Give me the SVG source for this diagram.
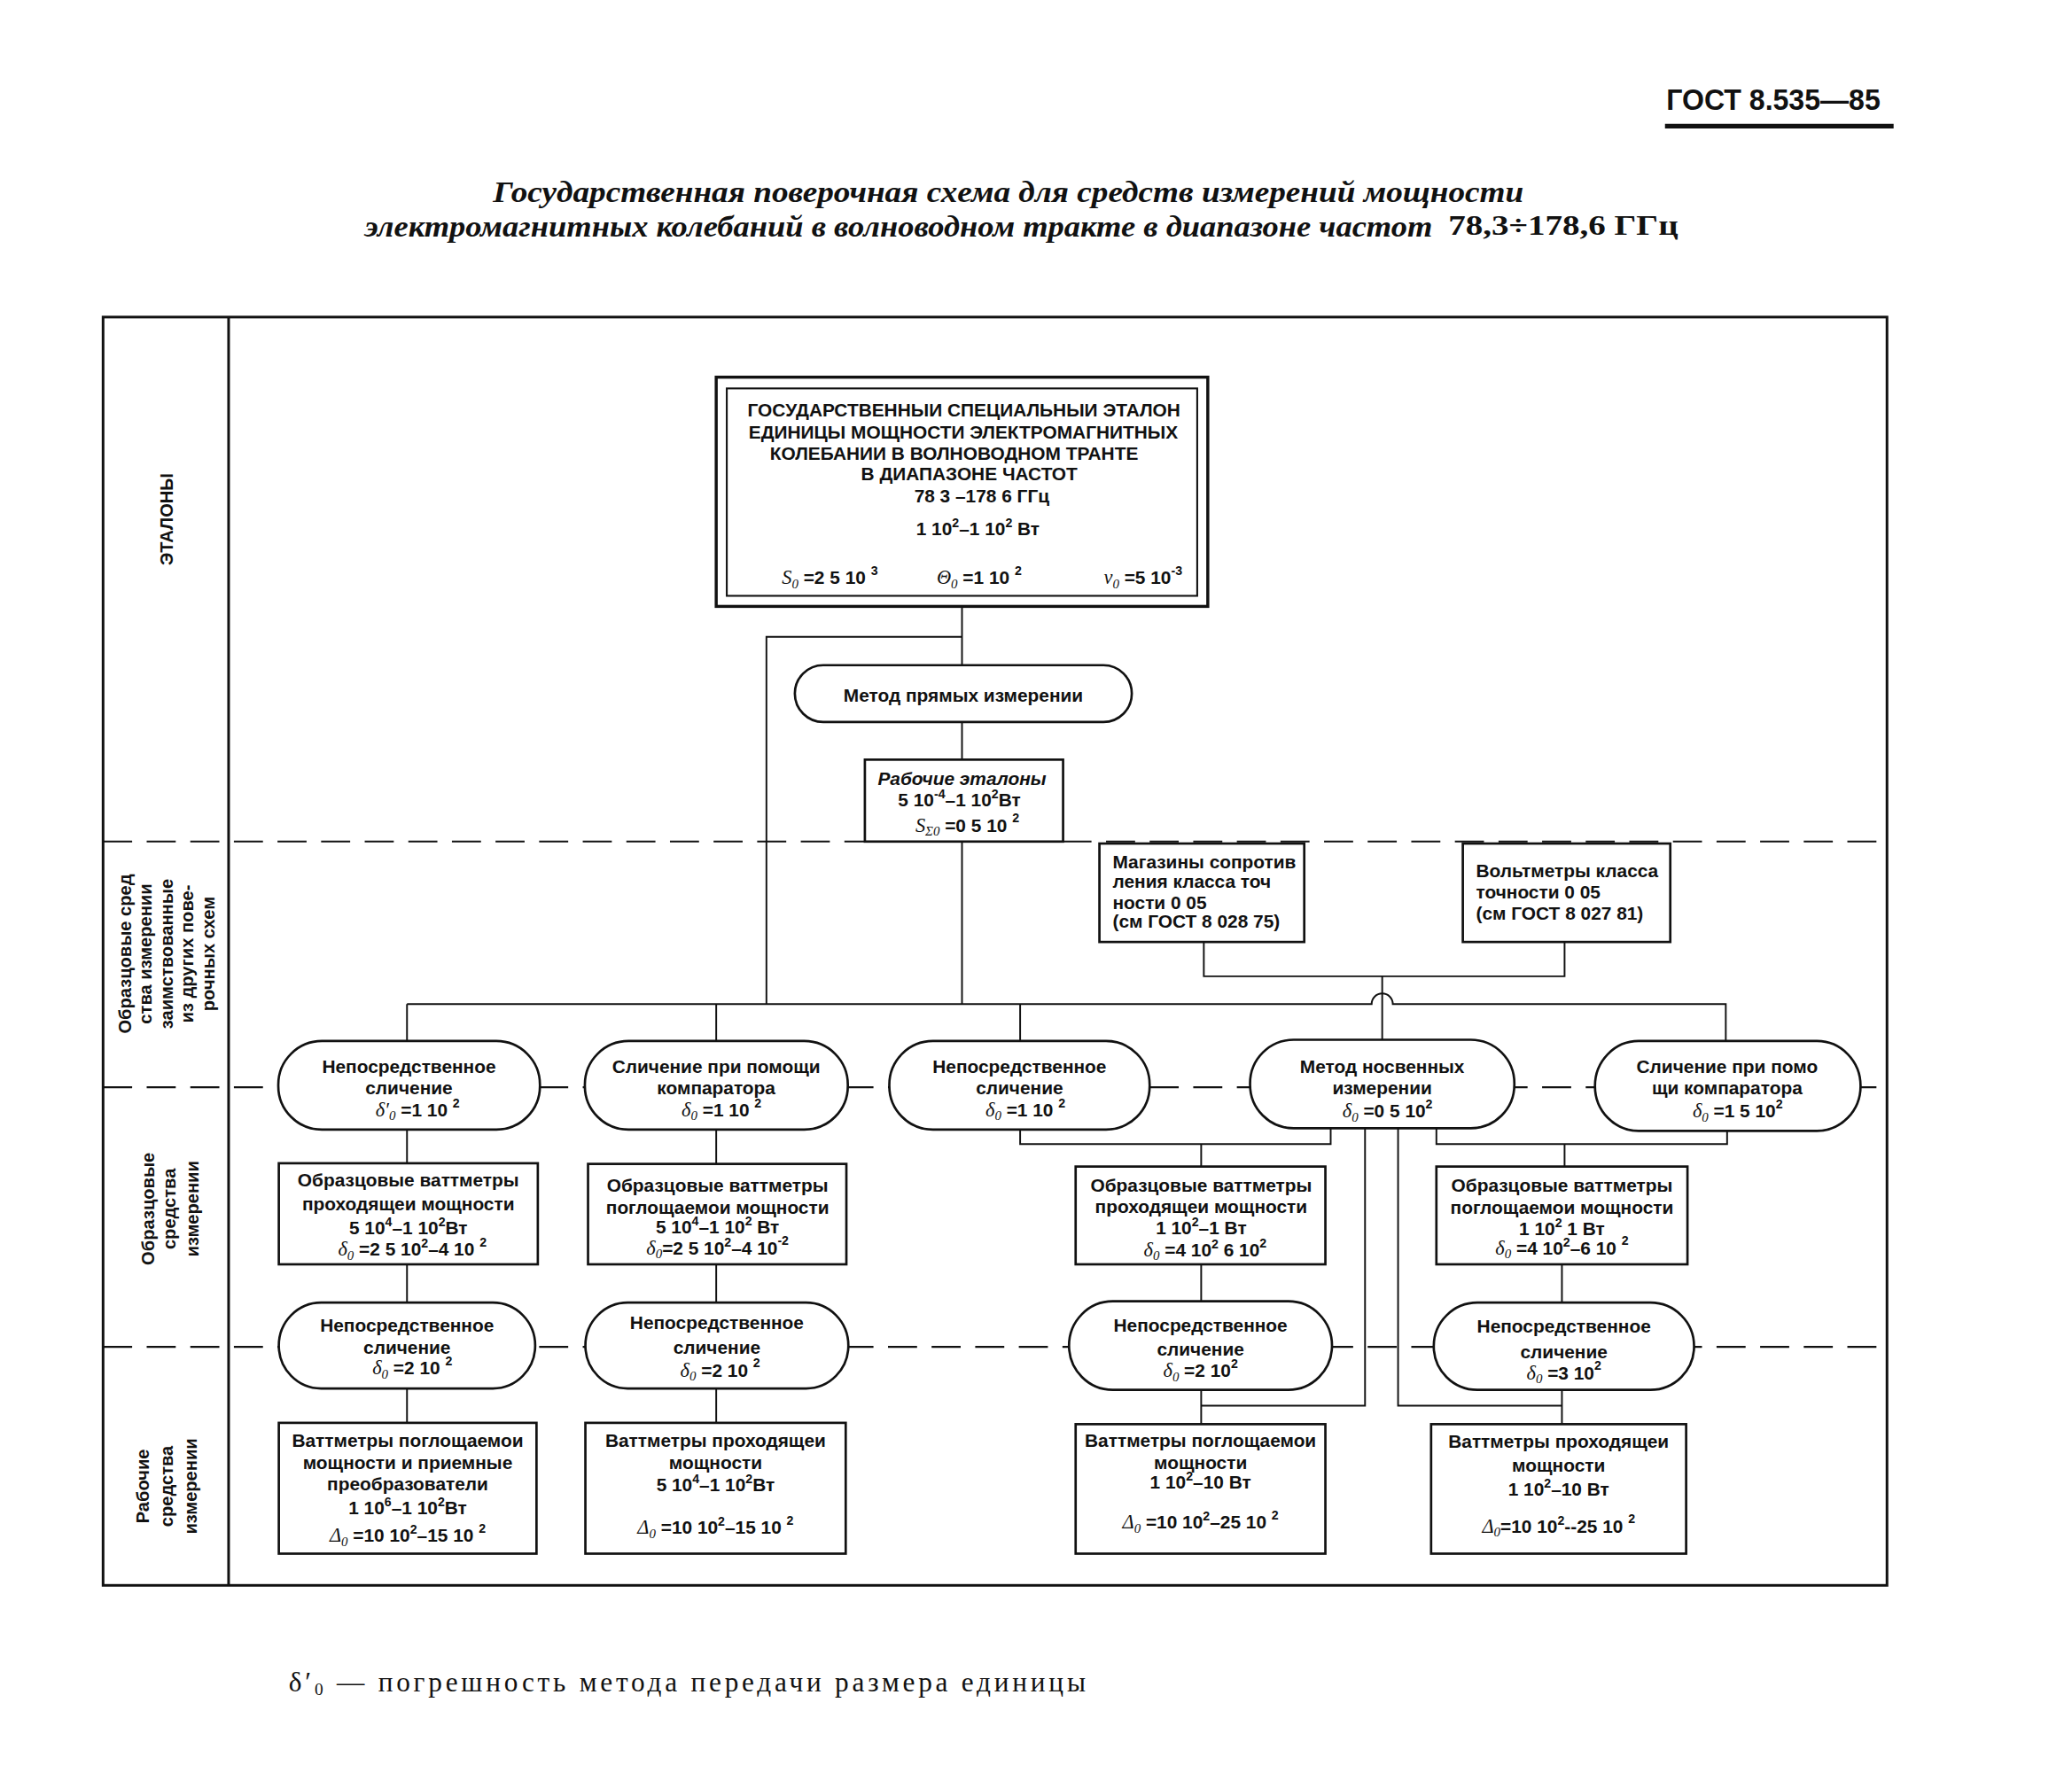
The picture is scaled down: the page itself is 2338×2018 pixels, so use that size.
<svg xmlns="http://www.w3.org/2000/svg" width="2338" height="2018" viewBox="0 0 2338 2018">
<style>
.n{font-family:"Liberation Sans",Arial,sans-serif;font-weight:bold;font-size:14px;text-anchor:middle;fill:#111}
.l{text-anchor:start}
.lab{font-family:"Liberation Sans",Arial,sans-serif;font-weight:bold;font-size:13.5px;text-anchor:middle;fill:#111}
.sp{font-size:9.5px}
.i{font-family:"Liberation Serif","Times New Roman",serif;font-style:italic;font-weight:normal;font-size:15px}
.sp.i{font-size:10px}
.box{fill:#fff;stroke:#111;stroke-width:1.8}
.box2{fill:#fff;stroke:#111;stroke-width:2.3}
.ln{fill:none;stroke:#111;stroke-width:1.3}
.dash{fill:none;stroke:#111;stroke-width:1.4;stroke-dasharray:22 11}
.ti{font-family:"Liberation Serif","Times New Roman",serif;font-weight:bold;font-style:italic;font-size:22px;fill:#111}
</style>
<rect width="2338" height="2018" fill="#fff"/>
<g transform="scale(1.49107)">

<g id="header">
<text x="1261" y="83" font-family="'Liberation Sans',Arial,sans-serif" font-weight="bold" font-size="22" textLength="162" lengthAdjust="spacingAndGlyphs" fill="#111">ГОСТ 8.535—85</text>
<line x1="1260" y1="95.5" x2="1433" y2="95.5" stroke="#111" stroke-width="3.4"/>
<text class="ti" x="373" y="153" textLength="780" lengthAdjust="spacingAndGlyphs">Государственная поверочная схема для средств измерений мощности</text>
<text class="ti" x="276" y="179" textLength="808" lengthAdjust="spacingAndGlyphs">электромагнитных колебаний в волноводном тракте в диапазоне частот</text>
<text x="1096" y="178" font-family="'Liberation Serif','Times New Roman',serif" font-weight="bold" font-size="21" textLength="174" lengthAdjust="spacingAndGlyphs" fill="#111">78,3÷178,6 ГГц</text>
</g>

<g id="frame">
<path class="dash" d="M78 637H1428M78 823H1428M78 1019.5H1428"/>
<rect x="78" y="240" width="1350" height="960" fill="none" stroke="#111" stroke-width="2"/>
<line x1="173" y1="240" x2="173" y2="1200" stroke="#111" stroke-width="2"/>
<text class="lab" transform="translate(131,393) rotate(-90)">ЭТАЛОНЫ</text>
<text class="lab" transform="translate(99.5,722) rotate(-90)">Образцовые сред</text>
<text class="lab" transform="translate(115,722) rotate(-90)">ства измерении</text>
<text class="lab" transform="translate(130.5,722) rotate(-90)">заимствованные</text>
<text class="lab" transform="translate(146.5,722) rotate(-90)">из других пове-</text>
<text class="lab" transform="translate(162.5,722) rotate(-90)">рочных схем</text>
<text class="lab" transform="translate(117,915) rotate(-90)">Образцовые</text>
<text class="lab" transform="translate(133,915) rotate(-90)">средства</text>
<text class="lab" transform="translate(150,915) rotate(-90)">измерении</text>
<text class="lab" transform="translate(113,1125) rotate(-90)">Рабочие</text>
<text class="lab" transform="translate(131,1125) rotate(-90)">средства</text>
<text class="lab" transform="translate(149,1125) rotate(-90)">измерении</text>
</g>

<g id="connectors" class="ln">
<path d="M728 459V503.5"/>
<path d="M728 482H580V760"/>
<path d="M728 546.5V575"/>
<path d="M728 637V760"/>
<path d="M308 760H1038A8 8 0 0 1 1054 760H1306V788"/>
<path d="M308 760V788M542 760V788M772 760V788"/>
<path d="M911 713V739H1184V713M1046 739V787"/>
<path d="M308 855V880.5M542 855V881"/>
<path d="M772 855V866H1007V854M909 866V883"/>
<path d="M1087 854V866H1307V856M1184 866V883"/>
<path d="M1033 854V1064H909M1058 854V1064H1182"/>
<path d="M308 957V986M542 957V986M909 957V985M1182 957V986"/>
<path d="M308 1051V1077M542 1051V1077M909 1052V1078M1182 1052V1078"/>
</g>

<g id="state-standard">
<rect class="box2" x="542" y="285.5" width="372" height="173.5"/>
<rect x="550" y="294" width="356" height="157" fill="none" stroke="#111" stroke-width="1.4"/>
<text class="n" x="729.5" y="315.5">ГОСУДАРСТВЕННЫИ СПЕЦИАЛЬНЫИ ЭТАЛОН</text>
<text class="n" x="729" y="332">ЕДИНИЦЫ МОЩНОСТИ ЭЛЕКТРОМАГНИТНЫХ</text>
<text class="n" x="722" y="348">КОЛЕБАНИИ В ВОЛНОВОДНОМ ТРАНТЕ</text>
<text class="n" x="733.5" y="363.5">В ДИАПАЗОНЕ ЧАСТОТ</text>
<text class="n" x="743" y="380.5">78 3 –178 6 ГГц</text>
<text class="n" x="740" y="405">1 10<tspan class="sp" dy="-6">2</tspan><tspan dy="6">–1 10</tspan><tspan class="sp" dy="-6">2</tspan><tspan dy="6"> Вт</tspan></text>
<text class="n" x="628" y="442"><tspan class="i">S</tspan><tspan class="sp i" dy="3">0</tspan><tspan dy="-3"> =2 5 10 </tspan><tspan class="sp" dy="-7">3</tspan></text>
<text class="n" x="741" y="442"><tspan class="i">Θ</tspan><tspan class="sp i" dy="3">0</tspan><tspan dy="-3"> =1 10 </tspan><tspan class="sp" dy="-7">2</tspan></text>
<text class="n" x="865" y="442"><tspan class="i">ν</tspan><tspan class="sp i" dy="3">0</tspan><tspan dy="-3"> =5 10</tspan><tspan class="sp" dy="-7">-3</tspan></text>
</g>

<g id="direct-method">
<rect class="box" x="601.5" y="503.5" width="255" height="43" rx="21.5"/>
<text class="n" x="729" y="531">Метод прямых измерении</text>
</g>

<g id="working-standards">
<rect class="box" x="654.5" y="575" width="150" height="62"/>
<text class="n" x="728" y="594" font-style="italic">Рабочие эталоны</text>
<text class="n" x="726" y="610.5">5 10<tspan class="sp" dy="-6">-4</tspan><tspan dy="6">–1 10</tspan><tspan class="sp" dy="-6">2</tspan><tspan dy="6">Вт</tspan></text>
<text class="n" x="732" y="629.5"><tspan class="i">S</tspan><tspan class="sp i" dy="3">Σ0</tspan><tspan dy="-3"> =0 5 10 </tspan><tspan class="sp" dy="-7">2</tspan></text>
</g>

<g id="resistance-boxes">
<rect class="box" x="832" y="638.5" width="155" height="74.5"/>
<text class="n l" x="842" y="657">Магазины сопротив</text>
<text class="n l" x="842" y="672">ления класса точ</text>
<text class="n l" x="842" y="688">ности 0 05</text>
<text class="n l" x="842" y="702.5">(см  ГОСТ 8 028 75)</text>
</g>

<g id="voltmeters">
<rect class="box" x="1107" y="638.5" width="157" height="74.5"/>
<text class="n l" x="1117" y="664">Вольтметры класса</text>
<text class="n l" x="1117" y="680">точности 0 05</text>
<text class="n l" x="1117" y="696">(см  ГОСТ 8 027 81)</text>
</g>

<g id="direct-comparison-1">
<rect class="box" x="210.6" y="788" width="198" height="67" rx="33" ry="33"/>
<text class="n" x="309.5" y="812">Непосредственное</text>
<text class="n" x="309.5" y="828">сличение</text>
<text class="n" x="316" y="845"><tspan class="i">δ′</tspan><tspan class="sp i" dy="3">0</tspan><tspan dy="-3"> =1 10 </tspan><tspan class="sp" dy="-7">2</tspan></text>
</g>

<g id="comparator-1">
<rect class="box" x="442.6" y="788" width="199" height="67" rx="33" ry="33"/>
<text class="n" x="542" y="812">Сличение при помощи</text>
<text class="n" x="542" y="828">компаратора</text>
<text class="n" x="546" y="845"><tspan class="i">δ</tspan><tspan class="sp i" dy="3">0</tspan><tspan dy="-3"> =1 10 </tspan><tspan class="sp" dy="-7">2</tspan></text>
</g>

<g id="direct-comparison-2">
<rect class="box" x="673" y="788" width="197" height="67" rx="33" ry="33"/>
<text class="n" x="771.5" y="812">Непосредственное</text>
<text class="n" x="771.5" y="828">сличение</text>
<text class="n" x="776" y="845"><tspan class="i">δ</tspan><tspan class="sp i" dy="3">0</tspan><tspan dy="-3"> =1 10 </tspan><tspan class="sp" dy="-7">2</tspan></text>
</g>

<g id="indirect-method">
<rect class="box" x="946" y="787" width="200" height="67" rx="33" ry="33"/>
<text class="n" x="1046" y="812">Метод носвенных</text>
<text class="n" x="1046" y="828">измерении</text>
<text class="n" x="1050" y="846"><tspan class="i">δ</tspan><tspan class="sp i" dy="3">0</tspan><tspan dy="-3"> =0 5 10</tspan><tspan class="sp" dy="-7">2</tspan></text>
</g>

<g id="comparator-2">
<rect class="box" x="1207" y="788" width="201" height="68" rx="33" ry="34"/>
<text class="n" x="1307" y="812">Сличение при помо</text>
<text class="n" x="1307" y="828">щи компаратора</text>
<text class="n" x="1315" y="846"><tspan class="i">δ</tspan><tspan class="sp i" dy="3">0</tspan><tspan dy="-3"> =1 5 10</tspan><tspan class="sp" dy="-7">2</tspan></text>
</g>

<g id="reference-wattmeter-1">
<rect class="box" x="211" y="880.5" width="196" height="76.5"/>
<text class="n" x="309" y="898">Образцовые ваттметры</text>
<text class="n" x="309" y="916">проходящеи мощности</text>
<text class="n" x="309" y="934">5 10<tspan class="sp" dy="-6">4</tspan><tspan dy="6">–1 10</tspan><tspan class="sp" dy="-6">2</tspan><tspan dy="6">Вт</tspan></text>
<text class="n" x="312" y="950.5"><tspan class="i">δ</tspan><tspan class="sp i" dy="3">0</tspan><tspan dy="-3"> =2 5 10</tspan><tspan class="sp" dy="-6">2</tspan><tspan dy="6">–4 10 </tspan><tspan class="sp" dy="-7">2</tspan></text>
</g>

<g id="reference-wattmeter-2">
<rect class="box" x="445" y="881" width="195.5" height="76"/>
<text class="n" x="543" y="902">Образцовые ваттметры</text>
<text class="n" x="543" y="919">поглощаемои мощности</text>
<text class="n" x="543" y="933.5">5 10<tspan class="sp" dy="-6">4</tspan><tspan dy="6">–1 10</tspan><tspan class="sp" dy="-6">2</tspan><tspan dy="6"> Вт</tspan></text>
<text class="n" x="543" y="949.5"><tspan class="i">δ</tspan><tspan class="sp i" dy="3">0</tspan><tspan dy="-3">=2 5 10</tspan><tspan class="sp" dy="-6">2</tspan><tspan dy="6">–4 10</tspan><tspan class="sp" dy="-7">-2</tspan></text>
</g>

<g id="reference-wattmeter-3">
<rect class="box" x="814" y="883" width="189" height="74"/>
<text class="n" x="909" y="902">Образцовые ваттметры</text>
<text class="n" x="909" y="918">проходящеи мощности</text>
<text class="n" x="909" y="934">1 10<tspan class="sp" dy="-6">2</tspan><tspan dy="6">–1 Вт</tspan></text>
<text class="n" x="912" y="951"><tspan class="i">δ</tspan><tspan class="sp i" dy="3">0</tspan><tspan dy="-3"> =4 10</tspan><tspan class="sp" dy="-6">2</tspan><tspan dy="6">  6 10</tspan><tspan class="sp" dy="-7">2</tspan></text>
</g>

<g id="reference-wattmeter-4">
<rect class="box" x="1087" y="883" width="190" height="74"/>
<text class="n" x="1182" y="902">Образцовые ваттметры</text>
<text class="n" x="1182" y="919">поглощаемои мощности</text>
<text class="n" x="1182" y="935">1 10<tspan class="sp" dy="-6">2</tspan><tspan dy="6">  1 Вт</tspan></text>
<text class="n" x="1182" y="949.5"><tspan class="i">δ</tspan><tspan class="sp i" dy="3">0</tspan><tspan dy="-3"> =4 10</tspan><tspan class="sp" dy="-6">2</tspan><tspan dy="6">–6 10  </tspan><tspan class="sp" dy="-7">2</tspan></text>
</g>

<g id="direct-comparison-3">
<rect class="box" x="211" y="986" width="194" height="65" rx="32" ry="32.5"/>
<text class="n" x="308" y="1008">Непосредственное</text>
<text class="n" x="308" y="1024.5">сличение</text>
<text class="n" x="312" y="1040.5"><tspan class="i">δ</tspan><tspan class="sp i" dy="3">0</tspan><tspan dy="-3"> =2 10 </tspan><tspan class="sp" dy="-7">2</tspan></text>
</g>

<g id="direct-comparison-4">
<rect class="box" x="443" y="986" width="199" height="65" rx="32" ry="32.5"/>
<text class="n" x="542.5" y="1006">Непосредственное</text>
<text class="n" x="542.5" y="1024.5">сличение</text>
<text class="n" x="545" y="1042"><tspan class="i">δ</tspan><tspan class="sp i" dy="3">0</tspan><tspan dy="-3"> =2 10 </tspan><tspan class="sp" dy="-7">2</tspan></text>
</g>

<g id="direct-comparison-5">
<rect class="box" x="809" y="985" width="199" height="67" rx="33" ry="33.5"/>
<text class="n" x="908.5" y="1008">Непосредственное</text>
<text class="n" x="908.5" y="1026">сличение</text>
<text class="n" x="908.5" y="1042.5"><tspan class="i">δ</tspan><tspan class="sp i" dy="3">0</tspan><tspan dy="-3"> =2 10</tspan><tspan class="sp" dy="-7">2</tspan></text>
</g>

<g id="direct-comparison-6">
<rect class="box" x="1085" y="986" width="197" height="66" rx="33" ry="33"/>
<text class="n" x="1183.5" y="1009">Непосредственное</text>
<text class="n" x="1183.5" y="1028">сличение</text>
<text class="n" x="1183.5" y="1044"><tspan class="i">δ</tspan><tspan class="sp i" dy="3">0</tspan><tspan dy="-3"> =3 10</tspan><tspan class="sp" dy="-7">2</tspan></text>
</g>

<g id="working-instruments-1">
<rect class="box" x="211" y="1077" width="195" height="99"/>
<text class="n" x="308.5" y="1095">Ваттметры поглощаемои</text>
<text class="n" x="308.5" y="1112">мощности и приемные</text>
<text class="n" x="308.5" y="1128">преобразователи</text>
<text class="n" x="308.5" y="1146">1 10<tspan class="sp" dy="-6">6</tspan><tspan dy="6">–1 10</tspan><tspan class="sp" dy="-6">2</tspan><tspan dy="6">Вт</tspan></text>
<text class="n" x="308.5" y="1167"><tspan class="i">Δ</tspan><tspan class="sp i" dy="3">0</tspan><tspan dy="-3"> =10 10</tspan><tspan class="sp" dy="-6">2</tspan><tspan dy="6">–15 10 </tspan><tspan class="sp" dy="-7">2</tspan></text>
</g>

<g id="working-instruments-2">
<rect class="box" x="443" y="1077" width="197" height="99"/>
<text class="n" x="541.5" y="1095">Ваттметры проходящеи</text>
<text class="n" x="541.5" y="1112">мощности</text>
<text class="n" x="541.5" y="1129">5 10<tspan class="sp" dy="-6">4</tspan><tspan dy="6">–1 10</tspan><tspan class="sp" dy="-6">2</tspan><tspan dy="6">Вт</tspan></text>
<text class="n" x="541.5" y="1161"><tspan class="i">Δ</tspan><tspan class="sp i" dy="3">0</tspan><tspan dy="-3"> =10 10</tspan><tspan class="sp" dy="-6">2</tspan><tspan dy="6">–15 10 </tspan><tspan class="sp" dy="-7">2</tspan></text>
</g>

<g id="working-instruments-3">
<rect class="box" x="814" y="1078" width="189" height="98"/>
<text class="n" x="908.5" y="1095">Ваттметры поглощаемои</text>
<text class="n" x="908.5" y="1112">мощности</text>
<text class="n" x="908.5" y="1127">1 10<tspan class="sp" dy="-6">2</tspan><tspan dy="6">–10 Вт</tspan></text>
<text class="n" x="908.5" y="1157"><tspan class="i">Δ</tspan><tspan class="sp i" dy="3">0</tspan><tspan dy="-3"> =10 10</tspan><tspan class="sp" dy="-6">2</tspan><tspan dy="6">–25 10 </tspan><tspan class="sp" dy="-7">2</tspan></text>
</g>

<g id="working-instruments-4">
<rect class="box" x="1083" y="1078" width="193" height="98"/>
<text class="n" x="1179.5" y="1096">Ваттметры проходящеи</text>
<text class="n" x="1179.5" y="1114">мощности</text>
<text class="n" x="1179.5" y="1132">1 10<tspan class="sp" dy="-6">2</tspan><tspan dy="6">–10 Вт</tspan></text>
<text class="n" x="1179.5" y="1160"><tspan class="i">Δ</tspan><tspan class="sp i" dy="3">0</tspan><tspan dy="-3">=10 10</tspan><tspan class="sp" dy="-6">2</tspan><tspan dy="6">--25 10 </tspan><tspan class="sp" dy="-7">2</tspan></text>
</g>

<g id="footnote">
<text x="218.5" y="1280" font-family="'Liberation Serif','Times New Roman',serif" font-size="21" textLength="603" lengthAdjust="spacing" fill="#111">δ′<tspan font-size="13" dy="3">0</tspan><tspan dy="-3"> — погрешность метода передачи размера единицы</tspan></text>
</g>

</g>
</svg>
